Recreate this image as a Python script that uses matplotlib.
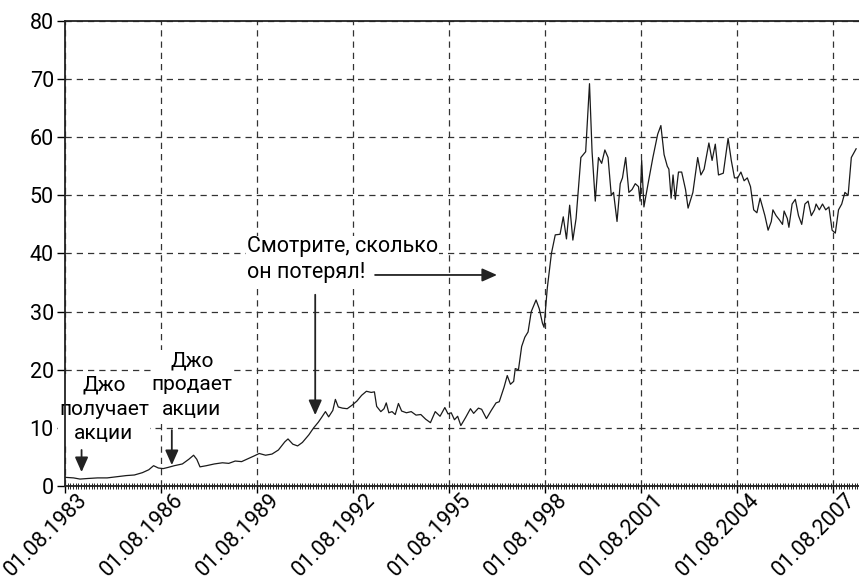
import numpy as np
import matplotlib
matplotlib.use("Agg")
import matplotlib.pyplot as plt
import matplotlib.transforms as mtransforms

# price series (decimal year, value)
years = [1983.58, 1983.85, 1984.05, 1984.3, 1984.6, 1984.9, 1985.2, 1985.5, 1985.75, 1986.0,
         1986.2, 1986.35, 1986.5, 1986.65, 1986.8, 1987.0, 1987.25, 1987.45, 1987.6, 1987.7,
         1987.8, 1988.0, 1988.25, 1988.5, 1988.7, 1988.9, 1989.1, 1989.3, 1989.5, 1989.65,
         1989.85, 1990.05, 1990.25, 1990.45, 1990.55, 1990.7, 1990.85, 1991.0, 1991.2, 1991.35,
         1991.5, 1991.6, 1991.72, 1991.82, 1991.95, 1992.03, 1992.12, 1992.25, 1992.4, 1992.55,
         1992.7, 1992.85, 1993.0, 1993.15, 1993.25, 1993.32, 1993.45, 1993.55, 1993.62, 1993.7,
         1993.8, 1993.9, 1994.0, 1994.1, 1994.25, 1994.4, 1994.55, 1994.7, 1994.85, 1995.0,
         1995.15, 1995.3, 1995.45, 1995.55, 1995.65, 1995.75, 1995.85, 1995.95, 1996.1, 1996.25,
         1996.35, 1996.5, 1996.6, 1996.75, 1996.9, 1997.05, 1997.15, 1997.3, 1997.4, 1997.5,
         1997.6, 1997.65, 1997.75, 1997.85, 1997.95, 1998.05, 1998.15, 1998.3, 1998.4, 1998.5,
         1998.55, 1998.65, 1998.78, 1998.9, 1999.05, 1999.15, 1999.25, 1999.35, 1999.45, 1999.55,
         1999.7, 1999.85, 1999.97, 2000.05, 2000.15, 2000.25, 2000.35, 2000.45, 2000.55, 2000.65,
         2000.72, 2000.83, 2000.93, 2001.0, 2001.1, 2001.2, 2001.3, 2001.4, 2001.5, 2001.55,
         2001.6, 2001.67, 2001.8, 2001.95, 2002.1, 2002.2, 2002.3, 2002.4, 2002.45, 2002.52,
         2002.58, 2002.65, 2002.75, 2002.85, 2002.97, 2003.05, 2003.2, 2003.35, 2003.45, 2003.55,
         2003.7, 2003.8, 2003.9, 2004.0, 2004.15, 2004.3, 2004.4, 2004.5, 2004.6, 2004.7,
         2004.8, 2004.9, 2005.0, 2005.1, 2005.2, 2005.3, 2005.45, 2005.55, 2005.65, 2005.7,
         2005.8, 2005.9, 2006.0, 2006.05, 2006.15, 2006.2, 2006.3, 2006.4, 2006.5, 2006.6,
         2006.7, 2006.8, 2006.9, 2007.0, 2007.05, 2007.15, 2007.25, 2007.35, 2007.45, 2007.55,
         2007.65, 2007.75, 2007.85, 2007.95, 2008.05, 2008.15, 2008.3]
price = [1.5, 1.4, 1.2, 1.3, 1.4, 1.4, 1.6, 1.8, 1.9, 2.3,
         2.8, 3.5, 3.1, 3.0, 3.2, 3.5, 3.8, 4.6, 5.3, 4.6,
         3.3, 3.5, 3.8, 4.0, 3.9, 4.3, 4.2, 4.7, 5.2, 5.6,
         5.3, 5.5, 6.2, 7.6, 8.1, 7.2, 6.9, 7.5, 8.8, 10.0,
         11.0, 11.8, 12.8, 11.9, 13.0, 14.9, 13.6, 13.4, 13.3, 13.9,
         14.6, 15.6, 16.3, 16.1, 16.2, 13.7, 12.8, 13.3, 14.3, 12.6,
         12.8, 12.3, 14.2, 12.9, 12.6, 12.8, 12.2, 12.3, 11.5, 10.9,
         12.8, 12.0, 13.5, 12.4, 12.6, 11.4, 12.0, 10.4, 11.8, 13.3,
         12.5, 13.4, 13.2, 11.6, 13.0, 14.3, 14.5, 17.0, 19.0, 17.5,
         18.0, 20.2, 20.0, 24.0, 25.6, 26.5, 30.0, 32.0, 30.5, 28.0,
         27.3, 34.0, 40.0, 43.2, 43.3, 46.3, 42.5, 48.3, 42.3, 46.0,
         56.5, 57.5, 69.2, 57.5, 49.0, 56.5, 55.5, 57.8, 56.5, 50.0,
         50.5, 45.5, 52.0, 53.0, 56.5, 50.5, 51.0, 52.0, 51.5, 49.0,
         56.0, 48.0, 52.0, 56.5, 60.5, 62.0, 57.0, 55.0, 54.5, 49.5,
         53.5, 49.3, 54.0, 54.0, 51.0, 47.8, 50.5, 56.5, 53.5, 54.5,
         59.0, 56.0, 58.8, 53.5, 53.8, 59.8, 56.0, 53.0, 53.0, 54.0,
         52.5, 53.0, 51.5, 47.5, 47.0, 49.5, 46.5, 44.0, 45.5, 47.5,
         46.5, 45.8, 45.0, 47.3, 46.0, 44.5, 48.5, 49.3, 46.5, 45.0,
         48.5, 49.0, 46.5, 47.5, 48.5, 47.5, 48.5, 47.5, 48.0, 44.0,
         43.5, 47.5, 48.5, 50.5, 50.0, 56.5, 58.0]

tick_years = [1983, 1986, 1989, 1992, 1995, 1998, 2001, 2004, 2007]
tick_labels = ['01.08.' + str(y) for y in tick_years]
y_ticks = [0, 10, 20, 30, 40, 50, 60, 70, 80]

plt.rcParams['font.family'] = ['Roboto', 'DejaVu Sans']

fig = plt.figure(figsize=(8.59, 5.8), dpi=100)
ax = fig.add_axes([0.0757, 0.162, 0.9243, 0.802])

ax.plot(years, price, color='#1a1a1a', lw=0.9, zorder=3)

x0 = 1983 + 7 / 12.0
ax.set_xlim(x0, 2008.39)
ax.set_ylim(0, 80)

ax.set_xticks([y + 7 / 12.0 for y in tick_years])
ax.set_xticklabels(tick_labels, rotation=45, ha='right', va='center', rotation_mode='anchor')
ax.set_xticks(np.arange(x0, 2008.39, 1 / 12.0), minor=True)
ax.set_yticks(y_ticks)

ax.tick_params(axis='x', which='major', direction='out', length=5, width=1, labelsize=15.5, pad=0)
ax.tick_params(axis='x', which='minor', direction='inout', length=4, width=0.6)
ax.tick_params(axis='y', direction='out', length=6, width=1, labelsize=15.5, pad=2)

offset = mtransforms.ScaledTranslation(0.19, -0.04, fig.dpi_scale_trans)
for lab in ax.get_xticklabels():
    lab.set_transform(lab.get_transform() + offset)

ax.grid(True, which='major', color='#333333', linestyle=(0, (5, 4)), linewidth=0.9)
ax.spines['right'].set_visible(False)
for s in ['left', 'top', 'bottom']:
    ax.spines[s].set_linewidth(1.3)
    ax.spines[s].set_color('#222222')
    ax.spines[s].set_zorder(7)

box = dict(facecolor='white', edgecolor='none', pad=0.5)
ax.text(1984.8, 13.2, 'Джо\nполучает\nакции', ha='center', va='center', fontsize=15,
        linespacing=1.35, bbox=box, zorder=6)
ax.text(1987.55, 17.4, 'Джо\nпродает\nакции', ha='center', va='center', fontsize=15,
        linespacing=1.35, bbox=box, zorder=5)
ax.text(1989.27, 38.9, 'Смотрите, сколько\nон потерял!', ha='left', va='center', fontsize=15.5,
        linespacing=1.3, bbox=box, zorder=5)

arr = dict(arrowstyle='-|>,head_width=0.4,head_length=0.9', color='#222222', lw=1.3,
           shrinkA=0, shrinkB=0)
ax.annotate('', xy=(1984.1, 2.4), xytext=(1984.1, 6.2), arrowprops=arr, zorder=8)
ax.annotate('', xy=(1986.92, 3.6), xytext=(1986.92, 9.6), arrowprops=arr, zorder=8)
ax.annotate('', xy=(1991.4, 12.2), xytext=(1991.4, 32.9), arrowprops=arr, zorder=8)
ax.annotate('', xy=(1997.08, 36.3), xytext=(1993.27, 36.3), arrowprops=arr, zorder=8)

fig.savefig('out.png', dpi=100)
